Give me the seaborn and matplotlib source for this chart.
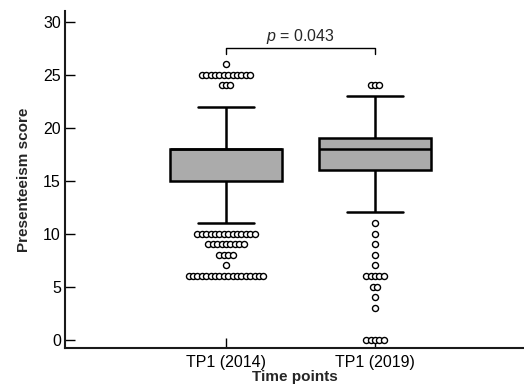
import numpy as np
import pandas as pd
import matplotlib
matplotlib.use("Agg")
import matplotlib.pyplot as plt
import seaborn as sns

time_points = ["TP1 (2014)", "TP1 (2019)"]
# five-number summaries: lower whisker, Q1, median, Q3, upper whisker
summary_2014 = [11, 15, 18, 18, 22]
summary_2019 = [12, 16, 18, 19, 23]

# outliers: score level and how many circles sit on that level
outlier_scores_2014 = [26, 25, 24, 10, 9, 8, 7, 6]
outlier_counts_2014 = [1, 12, 3, 14, 9, 4, 1, 18]
outlier_scores_2019 = [24, 11, 10, 9, 8, 7, 6, 5, 4, 3, 0]
outlier_counts_2019 = [3, 1, 1, 1, 1, 1, 5, 2, 1, 1, 5]

p_label = "$p$ = 0.043"
bracket_y = 27.5

sns.set_style("ticks")
plt.rcParams["font.family"] = ["Liberation Sans", "DejaVu Sans"]
plt.rcParams["mathtext.fontset"] = "custom"
plt.rcParams["mathtext.it"] = "Liberation Sans:italic"
plt.rcParams["mathtext.rm"] = "Liberation Sans"

box_df = pd.DataFrame({
    "tp": [time_points[0]] * len(summary_2014) + [time_points[1]] * len(summary_2019),
    "score": summary_2014 + summary_2019,
})

# spread tied outliers side by side around the box centre
step = 0.0295
out_x, out_y = [], []
for pos, scores, counts in [(0, outlier_scores_2014, outlier_counts_2014),
                            (1, outlier_scores_2019, outlier_counts_2019)]:
    for s, n in zip(scores, counts):
        offs = (np.arange(n) - (n - 1) / 2) * step
        out_x.extend(pos + offs)
        out_y.extend([s] * n)
out_df = pd.DataFrame({"x": out_x, "score": out_y})

fig, ax = plt.subplots(figsize=(5.24, 3.85), dpi=100)
fig.subplots_adjust(left=0.124, right=1.0, bottom=0.096, top=0.971)

sns.boxplot(data=box_df, x="tp", y="score", order=time_points, whis=(0, 100),
            showfliers=False, width=0.75, color="#ababab", saturation=1,
            linecolor="black", linewidth=1.8, ax=ax)
sns.scatterplot(data=out_df, x="x", y="score", marker="o", s=19,
                color="white", edgecolor="black", linewidth=1.0,
                ax=ax, zorder=3, legend=False)

# significance bracket
ax.plot([0, 0, 1, 1], [bracket_y - 0.5, bracket_y, bracket_y, bracket_y - 0.5],
        color="black", lw=1)
ax.text(0.5, bracket_y + 0.7, p_label, ha="center", va="baseline", fontsize=11.5)

ax.set_xlim(-1.08, 2.0)
ax.set_ylim(-0.8, 31)
ax.set_yticks([0, 5, 10, 15, 20, 25, 30])
ax.set_xticks([0, 1])
ax.set_xticklabels(time_points)
sns.despine(ax=ax)
for sp in ["left", "bottom"]:
    ax.spines[sp].set_linewidth(1.5)
    ax.spines[sp].set_color("#1a1a1a")
ax.tick_params(axis="both", direction="in", length=7, width=1, color="black",
               labelsize=11.5, pad=3, labelcolor="black")
ax.tick_params(axis="x", pad=5)

ax.set_xlabel("Time points", fontsize=11, fontweight="bold", labelpad=0)
ax.set_ylabel("Presenteeism score", fontsize=11, fontweight="bold", labelpad=9)

fig.savefig("out.png", dpi=100)
